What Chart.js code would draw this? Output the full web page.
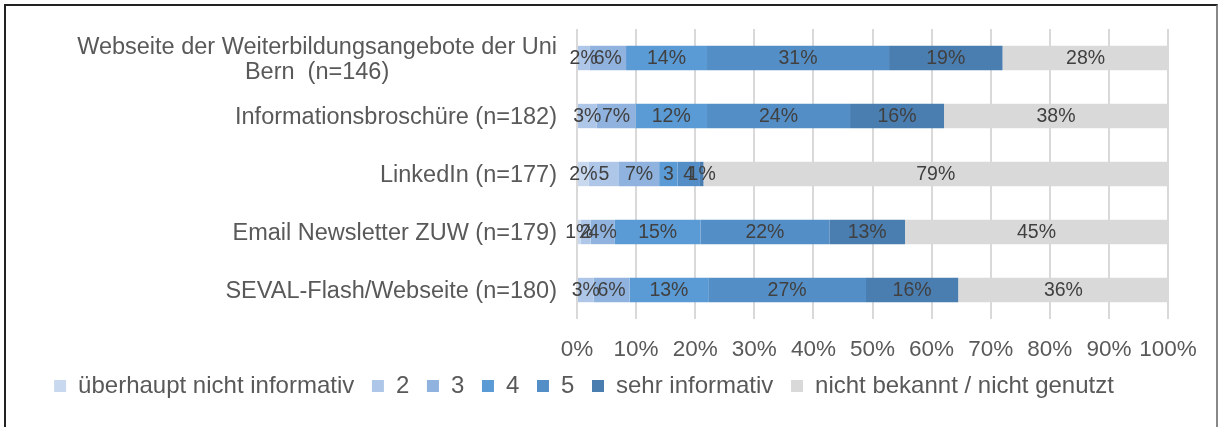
<!DOCTYPE html>
<html>
<head>
<meta charset="utf-8">
<script src="https://cdn.jsdelivr.net/npm/chart.js@4/dist/chart.umd.min.js"></script>
<style>
  body { margin: 0; background: #fff; }
  #wrap { position: relative; width: 1218px; height: 427px; }
  #rahmen { position: absolute; left: 4px; top: 4px; width: 1210px; height: 440px;
            border-left: 2px solid #222; border-top: 2px solid #222; border-right: 2px solid #888; }
  canvas { position: absolute; left: 0; top: 0; }
</style>
</head>
<body>
<div id="wrap">
  <canvas id="chart" width="1218" height="427"></canvas>
  <div id="rahmen"></div>
</div>
<script>
// Kategorien (Zeilen von oben nach unten)
const kategorien = [
    ['Webseite der Weiterbildungsangebote der Uni', 'Bern  (n=146)'],
    'Informationsbroschüre (n=182)',
    'LinkedIn (n=177)',
    'Email Newsletter ZUW (n=179)',
    'SEVAL-Flash/Webseite (n=180)'
];

// Antwortstufen
const stufen = ['überhaupt nicht informativ', '2', '3', '4', '5', 'sehr informativ', 'nicht bekannt / nicht genutzt'];
const farben = ['#c8d8ee', '#aec7e8', '#8fb2de', '#5b9bd5', '#548ec6', '#4a7db0', '#d9d9d9'];

// Prozentwerte je Stufe (eine Zahl pro Kategorie)
const ueberhauptNicht = [0, 0, 2.0, 0.6, 0];
const stufe2 = [2.1, 3.3, 5.1, 1.7, 2.8];
const stufe3 = [6.2, 6.6, 6.8, 4.1, 6.1];
const stufe4 = [13.7, 12.1, 3.1, 14.5, 13.3];
const stufe5 = [30.8, 24.2, 3.8, 21.8, 26.7];
const sehrInformativ = [19.2, 15.9, 0.6, 12.8, 15.6];
const nichtBekannt = [28.1, 37.9, 78.6, 44.5, 35.6];

// Beschriftungen, bei denen im Original das %-Zeichen fehlt: [Zeile, Stufe]
const ohneProzent = [[2, 1], [2, 3], [2, 4], [3, 1]];

const xTicks = [0, 10, 20, 30, 40, 50, 60, 70, 80, 90, 100];

const werte = [ueberhauptNicht, stufe2, stufe3, stufe4, stufe5, sehrInformativ, nichtBekannt];

const schrift = '"Liberation Sans", Arial, sans-serif';
const textFarbe = '#595959';
const legendeVersatz = 17; // Legende etwas näher an die Achse rücken

// Datenbeschriftungen mittig in jedem Segment
const segmentLabels = {
    id: 'segmentLabels',
    afterDatasetsDraw(chart) {
        const ctx = chart.ctx;
        ctx.save();
        ctx.font = '19.5px ' + schrift;
        ctx.fillStyle = '#404040';
        ctx.textAlign = 'center';
        ctx.textBaseline = 'middle';
        chart.data.datasets.forEach((ds, di) => {
            const meta = chart.getDatasetMeta(di);
            meta.data.forEach((el, i) => {
                const v = ds.data[i];
                if (!v) return;
                const ohne = ohneProzent.some(p => p[0] === i && p[1] === di);
                const txt = Math.round(v) + (ohne ? '' : '%');
                ctx.fillText(txt, (el.x + el.base) / 2, el.y + 1);
            });
        });
        ctx.restore();
    }
};

// Kategorienbeschriftung: Zeilen zentriert, Block rechtsbündig
const kategorieLabels = {
    id: 'kategorieLabels',
    afterDraw(chart) {
        const ctx = chart.ctx;
        const y = chart.scales.y;
        ctx.save();
        ctx.font = '23.5px ' + schrift;
        ctx.fillStyle = textFarbe;
        ctx.textAlign = 'center';
        ctx.textBaseline = 'middle';
        const rechts = chart.chartArea.left - 20;
        kategorien.forEach((k, i) => {
            const zeilen = Array.isArray(k) ? k : [k];
            const breite = Math.max(...zeilen.map(z => ctx.measureText(z).width));
            const mitte = rechts - breite / 2;
            const yc = y.getPixelForValue(i);
            const lh = 25;
            zeilen.forEach((z, j) => {
                ctx.fillText(z, mitte, yc + 2 + (j - (zeilen.length - 1) / 2) * lh);
            });
        });
        ctx.restore();
    }
};

// Legende nach dem Layout nach oben schieben
const legendeHoch = {
    id: 'legendeHoch',
    afterLayout(chart) {
        if (chart.legend) {
            chart.legend.top -= legendeVersatz;
            chart.legend.bottom -= legendeVersatz;
        }
    }
};

new Chart(document.getElementById('chart'), {
    type: 'bar',
    data: {
        labels: kategorien,
        datasets: werte.map((d, i) => ({
            label: stufen[i],
            data: d,
            backgroundColor: farben[i],
            borderWidth: 0,
            categoryPercentage: 0.84,
            barPercentage: 0.5
        }))
    },
    options: {
        indexAxis: 'y',
        responsive: false,
        animation: false,
        layout: { padding: { left: 0, right: 50, top: 29, bottom: 2 } },
        scales: {
            x: {
                stacked: true,
                min: 0,
                max: 100,
                afterBuildTicks: (s) => { s.ticks = xTicks.map(v => ({ value: v })); },
                grid: { color: '#d9d9d9', lineWidth: 2, drawTicks: false },
                border: { display: false },
                ticks: {
                    padding: 17,
                    color: textFarbe,
                    font: { family: schrift, size: 22.5 },
                    maxRotation: 0,
                    minRotation: 0,
                    autoSkip: false,
                    callback: v => v + '%'
                }
            },
            y: {
                stacked: true,
                grid: { display: false },
                border: { display: false },
                ticks: { display: false },
                afterFit: (s) => { s.width = 577; }
            }
        },
        plugins: {
            legend: {
                position: 'bottom',
                labels: {
                    boxWidth: 12,
                    boxHeight: 12,
                    padding: 11,
                    color: textFarbe,
                    font: { family: schrift, size: 24 },
                    generateLabels: (chart) => Chart.defaults.plugins.legend.labels.generateLabels(chart)
                        .map((l, i, alle) => Object.assign(l, { text: i < alle.length - 1 ? l.text + ' ' : l.text }))
                }
            },
            tooltip: { enabled: false }
        }
    },
    plugins: [segmentLabels, kategorieLabels, legendeHoch]
});
</script>
</body>
</html>
